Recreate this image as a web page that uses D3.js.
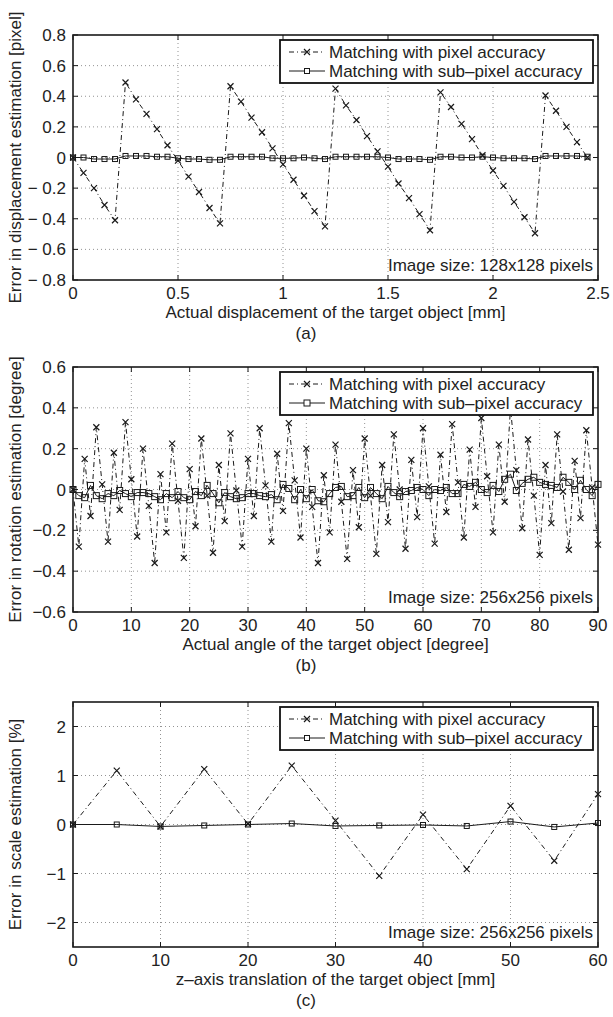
<!DOCTYPE html>
<html>
<head>
<meta charset="utf-8">
<script src="https://cdn.jsdelivr.net/npm/d3@7"></script>
<style>
  body { margin: 0; background: #fff; }
  text { font-family: "Liberation Sans", Arial, sans-serif; fill: #222; }
</style>
</head>
<body>
<svg id="fig" width="613" height="1017"></svg>
<script>
// ---- data ----
// (a) displacement
const dispX = [0,0.05,0.1,0.15,0.2,0.25,0.3,0.35,0.4,0.45,0.5,0.55,0.6,0.65,0.7,0.75,0.8,0.85,0.9,0.95,
  1,1.05,1.1,1.15,1.2,1.25,1.3,1.35,1.4,1.45,1.5,1.55,1.6,1.65,1.7,1.75,1.8,1.85,1.9,1.95,
  2,2.05,2.1,2.15,2.2,2.25,2.3,2.35,2.4,2.45];
const dispPixel = [0,-0.10,-0.20,-0.31,-0.41,0.49,0.38,0.285,0.185,0.08,-0.02,-0.125,-0.225,-0.33,-0.43,
  0.465,0.365,0.26,0.165,0.06,-0.045,-0.145,-0.25,-0.35,-0.45,0.45,0.34,0.245,0.14,0.04,
  -0.06,-0.17,-0.265,-0.37,-0.475,0.425,0.33,0.22,0.12,0.015,-0.085,-0.185,-0.29,-0.39,-0.495,
  0.405,0.305,0.20,0.10,0.0];
const dispSub = [0,0,-0.01,-0.01,-0.01,0.01,0.01,0.01,0.005,0.005,-0.005,-0.01,-0.01,-0.015,-0.015,
  0.005,0.005,0.005,0.005,-0.005,-0.005,-0.005,0,-0.005,-0.01,0.005,0.005,0.005,0.005,0.005,
  0,-0.01,-0.01,-0.01,-0.015,0.005,0.005,0,0,0.005,0,-0.005,-0.005,-0.005,-0.01,
  0.01,0.01,0.01,0.01,0.005];

// (b) rotation
const angX = [0,1,2,3,4,5,6,7,8,9,10,11,12,13,14,15,16,17,18,19,20,21,22,23,24,25,26,27,28,29,30,
  31,32,33,34,35,36,37,38,39,40,41,42,43,44,45,46,47,48,49,50,51,52,53,54,55,56,57,58,59,60,
  61,62,63,64,65,66,67,68,69,70,71,72,73,74,75,76,77,78,79,80,81,82,83,84,85,86,87,88,89,90];
const angPixel = [0,-0.28,0.15,-0.13,0.305,0.025,-0.255,0.18,-0.10,0.33,0.05,-0.23,0.20,-0.08,-0.36,
  0.075,-0.21,0.225,-0.055,-0.335,0.10,-0.18,0.25,-0.03,-0.31,0.12,-0.155,0.275,-0.005,-0.28,
  0.15,-0.13,0.30,0.02,-0.255,0.175,-0.105,0.325,0.045,-0.235,0.20,-0.085,-0.36,0.07,-0.21,
  0.22,-0.06,-0.34,0.095,-0.185,0.25,-0.03,-0.315,0.12,-0.16,0.27,0,-0.29,0.145,-0.135,
  0.30,0.015,-0.265,0.17,-0.11,0.32,0.035,-0.235,0.195,-0.085,0.35,0.065,-0.21,0.22,-0.06,
  0.40,0.095,-0.19,0.245,-0.03,-0.32,0.12,-0.165,0.27,-0.01,-0.295,0.14,-0.14,0.29,0.01,-0.27];
const angSub = [0,-0.03,-0.04,0.02,-0.03,-0.045,-0.02,-0.03,-0.005,-0.02,-0.035,-0.015,-0.015,-0.02,-0.035,
  -0.05,-0.02,-0.04,-0.01,-0.04,-0.05,-0.01,-0.03,0.02,-0.02,-0.065,-0.015,-0.035,-0.045,-0.04,
  -0.02,-0.02,-0.03,-0.035,-0.025,-0.05,0.025,0.005,-0.05,0,-0.045,0,-0.055,-0.06,-0.02,
  0.01,0.015,-0.035,-0.03,0.01,-0.04,0.01,-0.02,-0.045,0.015,-0.015,-0.035,-0.01,-0.005,0.01,
  0,-0.03,0,-0.005,0.01,-0.02,-0.02,0.025,0.015,0.035,0,-0.015,0.02,-0.01,0.05,
  0.075,-0.005,0.03,0.05,0.06,0.035,0.025,0.02,0.01,0.06,0.035,0,0.045,0,-0.03,0.025];

// (c) scale
const zX = [0,5,10,15,20,25,30,35,40,45,50,55,60];
const zPixel = [0,1.1,-0.04,1.13,0.01,1.2,0.08,-1.05,0.2,-0.91,0.38,-0.74,0.62];
const zSub = [0,0,-0.04,-0.02,0,0.02,-0.03,-0.02,-0.01,-0.03,0.06,-0.05,0.03];

const legendLabels = ["Matching with pixel accuracy", "Matching with sub\u2013pixel accuracy"];

const svg = d3.select("#fig");
svg.append("rect").attr("width", 613).attr("height", 1017).attr("fill", "#fff");

const left = 73, right = 598, plotH = 245;
const ink = "#1a1a1a";

function minusFmt(spaced) {
  return function(v) {
    if (Math.abs(v) < 1e-9) return "0";
    const s = String(+Math.abs(v).toFixed(2));
    return v < 0 ? (spaced ? "\u2212 " : "\u2212") + s : s;
  };
}

function drawPanel(p) {
  const g = svg.append("g");
  const top = p.top, bottom = p.top + plotH;
  const x = d3.scaleLinear().domain(p.xDomain).range([left, right]);
  const y = d3.scaleLinear().domain(p.yDomain).range([bottom, top]);

  // grid
  g.append("g").selectAll("line").data(p.xTicks.filter(t => t > p.xDomain[0] && t < p.xDomain[1]))
    .join("line")
    .attr("x1", d => x(d)).attr("x2", d => x(d)).attr("y1", top).attr("y2", bottom)
    .attr("stroke", "#777").attr("stroke-width", 0.8).attr("stroke-dasharray", "1,3");
  g.append("g").selectAll("line").data(p.yTicks.filter(t => t > p.yDomain[0] && t < p.yDomain[1]))
    .join("line")
    .attr("x1", left).attr("x2", right).attr("y1", d => y(d)).attr("y2", d => y(d))
    .attr("stroke", "#777").attr("stroke-width", 0.8).attr("stroke-dasharray", "1,3");

  // series
  const pix = p.xs.map((v, i) => [v, p.pixel[i]]);
  const sub = p.xs.map((v, i) => [v, p.sub[i]]);
  const line = d3.line().x(d => x(d[0])).y(d => y(d[1]));

  g.append("path").datum(pix).attr("d", line).attr("fill", "none")
    .attr("stroke", ink).attr("stroke-width", 1).attr("stroke-dasharray", "5,3,1,3");
  g.append("path").datum(sub).attr("d", line).attr("fill", "none")
    .attr("stroke", ink).attr("stroke-width", 1);

  const xs = 3;
  g.append("g").selectAll("path").data(pix).join("path")
    .attr("d", d => `M${x(d[0]) - xs},${y(d[1]) - xs}L${x(d[0]) + xs},${y(d[1]) + xs}M${x(d[0]) - xs},${y(d[1]) + xs}L${x(d[0]) + xs},${y(d[1]) - xs}`)
    .attr("stroke", ink).attr("stroke-width", 1.2);
  const sq = p.sq;
  g.append("g").selectAll("rect").data(sub).join("rect")
    .attr("x", d => x(d[0]) - sq / 2).attr("y", d => y(d[1]) - sq / 2)
    .attr("width", sq).attr("height", sq)
    .attr("fill", "none").attr("stroke", ink).attr("stroke-width", 1);

  // legend
  const lx = 280, lw = 313, ly = top + 5, lh = 43;
  const lg = g.append("g");
  lg.append("rect").attr("x", lx).attr("y", ly).attr("width", lw).attr("height", lh)
    .attr("fill", "#fff").attr("stroke", "#111").attr("stroke-width", 1.8);
  [0, 1].forEach(i => {
    const yy = ly + 12 + i * 19;
    lg.append("line").attr("x1", lx + 9).attr("x2", lx + 45).attr("y1", yy).attr("y2", yy)
      .attr("stroke", ink).attr("stroke-width", 1)
      .attr("stroke-dasharray", i === 0 ? "5,3,1,3" : null);
    const cx = lx + 27;
    if (i === 0) {
      lg.append("path")
        .attr("d", `M${cx - xs},${yy - xs}L${cx + xs},${yy + xs}M${cx - xs},${yy + xs}L${cx + xs},${yy - xs}`)
        .attr("stroke", ink).attr("stroke-width", 1.2);
    } else {
      lg.append("rect").attr("x", cx - sq / 2).attr("y", yy - sq / 2).attr("width", sq).attr("height", sq)
        .attr("fill", "#fff").attr("stroke", ink);
    }
    lg.append("text").attr("x", lx + 49).attr("y", yy + 6)
      .attr("font-size", 17).text(legendLabels[i]);
  });

  // image size note
  g.append("text").attr("x", 593).attr("y", bottom - 9).attr("text-anchor", "end")
    .attr("font-size", 17).text(p.note);

  // frame and inward ticks
  g.append("rect").attr("x", left).attr("y", top).attr("width", right - left).attr("height", plotH)
    .attr("fill", "none").attr("stroke", ink).attr("stroke-width", 1.6);
  const tl = 5;
  p.xTicks.forEach(t => {
    g.append("line").attr("x1", x(t)).attr("x2", x(t)).attr("y1", bottom).attr("y2", bottom - tl).attr("stroke", ink);
    g.append("line").attr("x1", x(t)).attr("x2", x(t)).attr("y1", top).attr("y2", top + tl).attr("stroke", ink);
  });
  p.yTicks.forEach(t => {
    g.append("line").attr("x1", left).attr("x2", left + tl).attr("y1", y(t)).attr("y2", y(t)).attr("stroke", ink);
    g.append("line").attr("x1", right).attr("x2", right - tl).attr("y1", y(t)).attr("y2", y(t)).attr("stroke", ink);
  });

  // tick labels
  g.append("g").selectAll("text").data(p.xTicks).join("text")
    .attr("x", d => x(d)).attr("y", bottom + 19).attr("text-anchor", "middle")
    .attr("font-size", 17).text(d => p.xFmt(d));
  g.append("g").selectAll("text").data(p.yTicks).join("text")
    .attr("x", left - 7).attr("y", d => y(d) + 6).attr("text-anchor", "end")
    .attr("font-size", 17).text(d => p.yFmt(d));

  // axis titles
  g.append("text").attr("x", (left + right) / 2).attr("y", bottom + 38).attr("text-anchor", "middle")
    .attr("font-size", 17).text(p.xTitle);
  g.append("text").attr("transform", `translate(21,${(top + bottom) / 2}) rotate(-90)`)
    .attr("text-anchor", "middle").attr("font-size", 17).text(p.yTitle);
  g.append("text").attr("x", 306).attr("y", bottom + 59).attr("text-anchor", "middle")
    .attr("font-size", 17).text(p.tag);
}

drawPanel({
  top: 35, xDomain: [0, 2.5], yDomain: [-0.8, 0.8],
  xTicks: [0, 0.5, 1, 1.5, 2, 2.5], yTicks: [-0.8, -0.6, -0.4, -0.2, 0, 0.2, 0.4, 0.6, 0.8],
  xFmt: d => String(d), yFmt: minusFmt(true),
  xs: dispX, pixel: dispPixel, sub: dispSub, sq: 5,
  note: "Image size: 128x128 pixels",
  xTitle: "Actual displacement of the target object [mm]",
  yTitle: "Error in displacement estimation [pixel]", tag: "(a)"
});
drawPanel({
  top: 367, xDomain: [0, 90], yDomain: [-0.6, 0.6],
  xTicks: [0, 10, 20, 30, 40, 50, 60, 70, 80, 90], yTicks: [-0.6, -0.4, -0.2, 0, 0.2, 0.4, 0.6],
  xFmt: d => String(d), yFmt: minusFmt(false),
  xs: angX, pixel: angPixel, sub: angSub, sq: 6,
  note: "Image size: 256x256 pixels",
  xTitle: "Actual angle of the target object [degree]",
  yTitle: "Error in rotation estimation [degree]", tag: "(b)"
});
drawPanel({
  top: 702, xDomain: [0, 60], yDomain: [-2.5, 2.5],
  xTicks: [0, 10, 20, 30, 40, 50, 60], yTicks: [-2, -1, 0, 1, 2],
  xFmt: d => String(d), yFmt: minusFmt(false),
  xs: zX, pixel: zPixel, sub: zSub, sq: 5,
  note: "Image size: 256x256 pixels",
  xTitle: "z\u2013axis translation of the target object [mm]",
  yTitle: "Error in scale estimation [%]", tag: "(c)"
});
</script>
</body>
</html>
